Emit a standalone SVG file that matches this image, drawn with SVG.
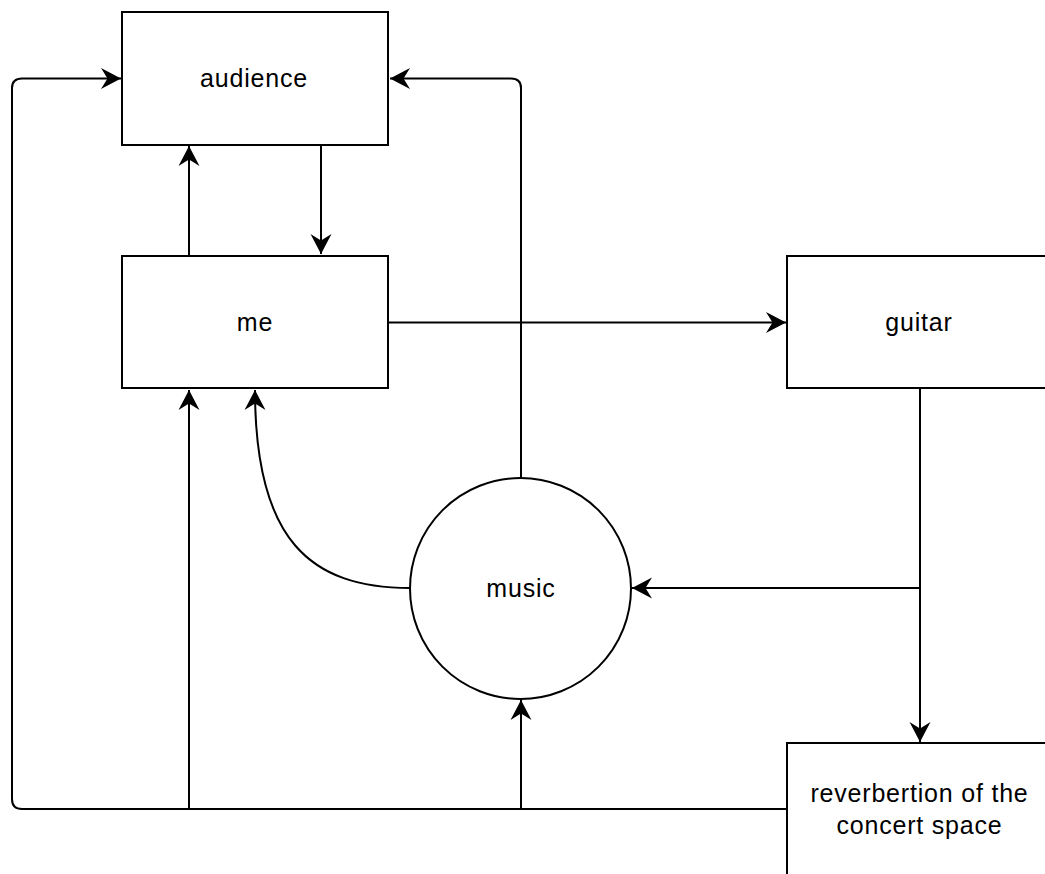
<svg xmlns="http://www.w3.org/2000/svg" width="1045" height="874" viewBox="0 0 1045 874">
  <style>
    .box { fill: #ffffff; stroke: #000000; stroke-width: 2; }
    .lbl { font-family: "Liberation Sans", Arial, sans-serif; font-size: 25px; letter-spacing: 0.8px; fill: #000000; text-anchor: middle; }
    .edge { fill: none; stroke: #000000; stroke-width: 2; }
    .arr { marker-end: url(#head); }
  </style>
  <defs>
    <marker id="head" markerUnits="userSpaceOnUse" viewBox="-21 -11 23 22" refX="0" refY="0" markerWidth="23" markerHeight="22" orient="auto">
      <path d="M0,0 L-20,-10.5 L-13.5,0 L-20,10.5 Z" fill="#000000"/>
    </marker>
  </defs>

  <rect width="1045" height="874" fill="#ffffff"/>

  <!-- connectors -->
  <g id="connectors">
    <path class="edge arr" d="M189,255 L189,146"/>
    <path class="edge arr" d="M321,145 L321,254"/>
    <path class="edge arr" d="M388,322.5 L786,322.5"/>
    <path class="edge arr" d="M521,478 L521,88 Q521,78.5 511,78.5 L390,78.5"/>
    <path class="edge arr" d="M787,809 L22,809 Q12,809 12,799 L12,88 Q12,78.5 22,78.5 L121,78.5"/>
    <path class="edge arr" d="M189,809 L189,390"/>
    <path class="edge arr" d="M521,809 L521,700"/>
    <path class="edge arr" d="M920,389 L920,742"/>
    <path class="edge arr" d="M920,588 L632,588"/>
    <path class="edge arr" d="M410,588 C310,588 255,540 255,390"/>
  </g>

  <g id="audience">
    <rect class="box" x="122" y="12" width="266" height="133"/>
    <text class="lbl" x="254" y="86.5">audience</text>
  </g>

  <g id="me">
    <rect class="box" x="122" y="256" width="266" height="132"/>
    <text class="lbl" x="255" y="330.5">me</text>
  </g>

  <g id="guitar">
    <rect class="box" x="787" y="256" width="266" height="132"/>
    <text class="lbl" x="919" y="330.5">guitar</text>
  </g>

  <g id="music">
    <circle class="box" cx="520.5" cy="588.5" r="110.5"/>
    <text class="lbl" x="521" y="596.5">music</text>
  </g>

  <g id="reverb">
    <rect class="box" x="787" y="743" width="266" height="140"/>
    <text class="lbl" x="919.5" y="801.5">reverbertion of the</text>
    <text class="lbl" x="919.5" y="834">concert space</text>
  </g>
</svg>
